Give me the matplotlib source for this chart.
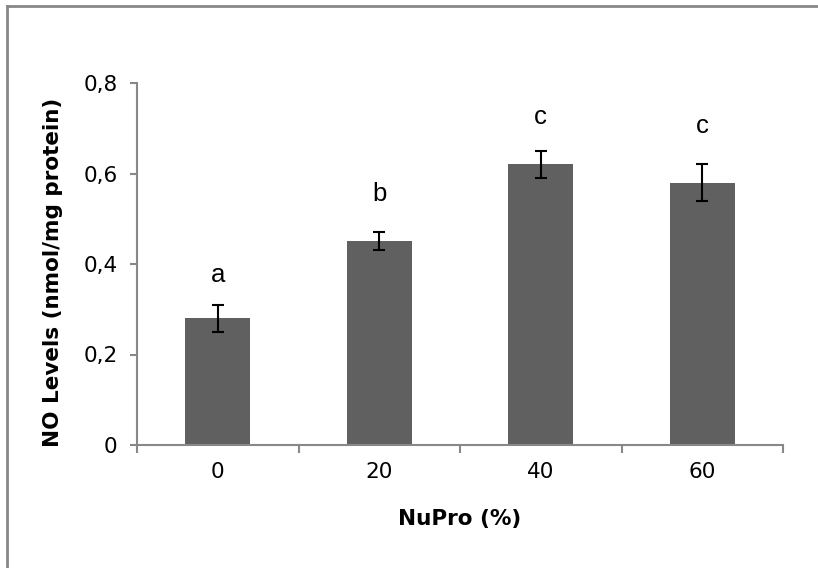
import numpy as np
import matplotlib
matplotlib.use('Agg')
import matplotlib.pyplot as plt
from matplotlib.lines import Line2D
from matplotlib.ticker import FuncFormatter

# data
categories = ['0', '20', '40', '60']
no_levels = [0.28, 0.45, 0.62, 0.58]
errors = [0.03, 0.02, 0.03, 0.04]
letters = ['a', 'b', 'c', 'c']
letter_y = [0.36, 0.54, 0.71, 0.69]

fig = plt.figure(figsize=(8.18, 5.68), dpi=100)
ax = fig.add_axes([137 / 818, 123 / 568, 646 / 818, 362 / 568])

x = np.arange(len(categories))
ax.bar(x, no_levels, width=0.4, color='#606060', zorder=2)
ax.errorbar(x, no_levels, yerr=errors, fmt='none', ecolor='black',
            elinewidth=1.5, capsize=4.5, capthick=1.5, zorder=3)

for xi, lab, ly in zip(x, letters, letter_y):
    ax.text(xi, ly, lab, ha='center', va='baseline', fontsize=18.5,
            family='Liberation Sans')

ax.set_xlim(-0.5, len(categories) - 0.5)
ax.set_ylim(0, 0.8)
ax.set_yticks([0, 0.2, 0.4, 0.6, 0.8])
ax.yaxis.set_major_formatter(FuncFormatter(lambda v, p: '0' if v == 0 else f'{v:.1f}'.replace('.', ',')))

# ticks between categories, labels at centers
ax.set_xticks(np.arange(-0.5, len(categories), 1.0))
ax.set_xticklabels([])
ax.set_xticks(x, minor=True)
ax.set_xticklabels(categories, minor=True)
ax.tick_params(axis='x', which='major', direction='out', length=6, width=1.5, color='#888888')
ax.tick_params(axis='x', which='minor', length=0, pad=12, labelsize=15.5)
ax.tick_params(axis='y', direction='out', length=5, width=1.5, color='#888888', pad=9, labelsize=15.5)

for s in ['top', 'right']:
    ax.spines[s].set_visible(False)
for s in ['left', 'bottom']:
    ax.spines[s].set_color('#888888')
    ax.spines[s].set_linewidth(1.5)

ax.set_xlabel('NuPro (%)', fontsize=15.5, fontweight='bold', labelpad=20)
ax.set_ylabel('NO Levels (nmol/mg protein)', fontsize=15.5, fontweight='bold')
ax.yaxis.set_label_coords(-0.114, 0.476)

# chart area border (cropped at right and bottom)
fig.add_artist(Line2D([7 / 818, 7 / 818], [0, 1 - 6 / 568], transform=fig.transFigure,
                      color='#888888', linewidth=2))
fig.add_artist(Line2D([7 / 818, 1], [1 - 6 / 568, 1 - 6 / 568], transform=fig.transFigure,
                      color='#888888', linewidth=2))

fig.savefig('out.png', dpi=100)
